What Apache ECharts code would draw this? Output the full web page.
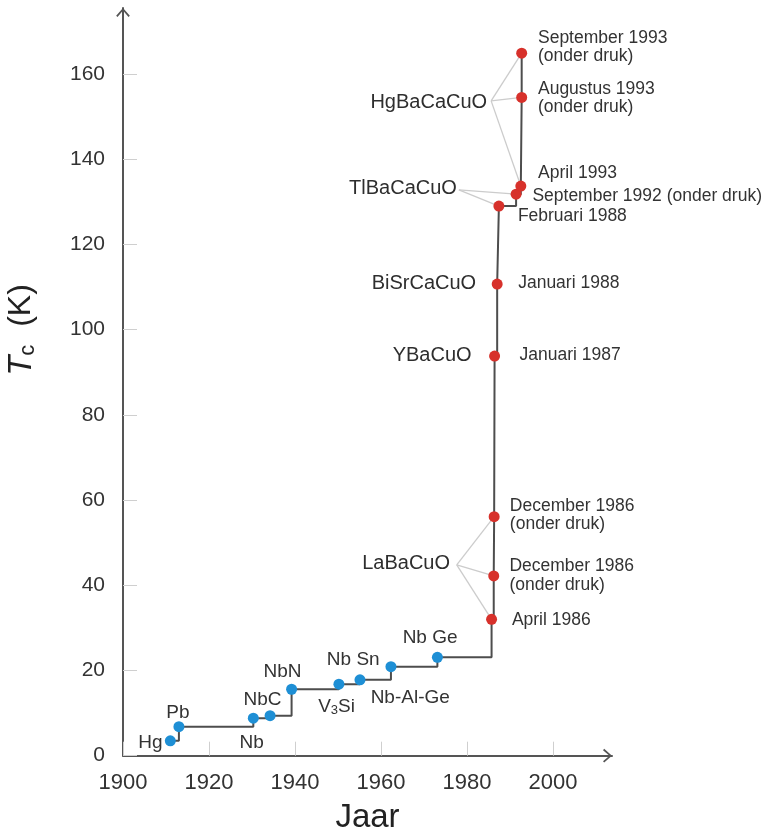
<!DOCTYPE html>
<html><head><meta charset="utf-8">
<script src="https://cdn.jsdelivr.net/npm/echarts@6/dist/echarts.min.js"></script>
<style>html,body{margin:0;padding:0;background:#fff}#c{width:767px;height:840px}</style>
</head><body><div id="c"></div><script>
// ---- data ----
const blueNames = ['Hg','Pb','Nb','NbC','NbN','V3Si','Nb Sn','Nb-Al-Ge','Nb Ge'];
const blueYears = [1911.0, 1913.0, 1930.3, 1934.2, 1939.2, 1950.2, 1955.1, 1962.3, 1973.1];
const blueTc    = [3.5, 6.8, 8.8, 9.4, 15.6, 16.8, 17.8, 20.9, 23.1];

const redDates = ['April 1986','December 1986\n(onder druk)','December 1986\n(onder druk)','Januari 1987','Januari 1988','Februari 1988','September 1992 (onder druk)','April 1993','Augustus 1993\n(onder druk)','September 1993\n(onder druk)'];
const redYears = [1985.7, 1986.2, 1986.3, 1986.4, 1987.0, 1987.4, 1991.4, 1992.5, 1992.7, 1992.7];
const redTc    = [32.0, 42.2, 56.1, 93.8, 110.7, 129.0, 131.8, 133.7, 154.5, 164.9];

// compound families with leader lines (anchor in data units, members = red indices)
const groupNames   = ['HgBaCaCuO','TlBaCaCuO','LaBaCuO'];
const groupYears   = [1985.6, 1978.1, 1977.6];
const groupTc      = [153.7, 132.8, 44.8];
const groupMembers = [[9,8,7],[6,5],[2,1,0]];

// compound names written next to a single point
const singleNames  = ['YBaCuO','BiSrCaCuO'];
const singleMember = [3, 4];

const xTicks = [1900,1920,1940,1960,1980,2000];
const yTicks = [0,20,40,60,80,100,120,140,160];

// ---- layout / style (label offsets in px) ----
const FONT = 'Liberation Sans, Arial, Helvetica, sans-serif';
const blueOffsets = [[-20,2.6],[-1,-13.6],[-1.6,25],[-7.5,-15.4],[-9,-17],[-2.3,22.7],[-6.7,-20],[19.3,31.6],[-7.3,-19]];
const redOffsets  = [[20.3,0.7],[15.7,0],[15.7,-1.7],[25,-1],[21,-1],[19,10],[16.3,1.7],[17.3,-13],[16.3,0.7],[16.3,-6]];
const groupOffsets = [[-4,2],[-2,-1],[-6.7,-1]];
const singleOffsets = [[-23,-1],[-21,-1]];

const BLUE = '#1e8fd5', RED = '#d7312b', LINE = '#4d4d4d';

const arrowPath = 'path://M7,0 L14,8 L12.6,9.2 L7,2.6 L1.4,9.2 L0,8 Z';

const allYears = blueYears.concat(redYears);
const allTc = blueTc.concat(redTc);

const blueData = blueYears.map((y,i)=>({
  value:[y, blueTc[i]],
  label:{offset: blueOffsets[i]}
}));
const redData = redYears.map((y,i)=>({
  value:[y, redTc[i]],
  label:{offset: redOffsets[i]}
}));
const groupData = groupYears.map((y,i)=>({
  value:[y, groupTc[i]],
  label:{offset: groupOffsets[i]}
}));
const singleData = singleMember.map((m,i)=>({
  value:[redYears[m], redTc[m]],
  label:{offset: singleOffsets[i]}
}));
const leaderLines = [];
groupMembers.forEach((mem,g)=>{
  mem.forEach(m=>{
    leaderLines.push([{coord:[groupYears[g], groupTc[g]]},{coord:[redYears[m], redTc[m]]}]);
  });
});

const chart = echarts.init(document.getElementById('c'), null, {renderer:'canvas'});
chart.setOption({
  animation:false,
  backgroundColor:'#fff',
  textStyle:{fontFamily:FONT},
  grid:{left:123, right:155, top:8, bottom:84.3, containLabel:false, outerBoundsMode:'none'},
  xAxis:{
    type:'value', min:1900, max:2013.7, interval:20,
    name:'Jaar', nameLocation:'middle', nameGap:46,
    nameTextStyle:{fontSize:33, color:'#222', fontFamily:FONT},
    axisLine:{show:true, lineStyle:{color:'#555', width:2}, symbol:['none', arrowPath], symbolSize:[14,9], symbolOffset:[0,-4.5]},
    axisTick:{show:true, inside:true, length:14, lineStyle:{color:'#cfcfcf', width:1}, customValues:xTicks},
    axisLabel:{fontSize:22, color:'#333', margin:16, fontFamily:FONT, customValues:xTicks,
      formatter:v=> (v%20===0 ? String(v) : '')},
    splitLine:{show:false}
  },
  yAxis:{
    type:'value', min:0, max:175.5, interval:20,
    axisLine:{show:true, lineStyle:{color:'#555', width:2}, symbol:['none', arrowPath], symbolSize:[14,9], symbolOffset:[0,-4.5]},
    axisTick:{show:true, inside:true, length:14, lineStyle:{color:'#cfcfcf', width:1}, customValues:yTicks},
    axisLabel:{fontSize:21, color:'#333', margin:18, fontFamily:FONT, customValues:yTicks,
      formatter:v=> (v%20===0 ? String(v) : '')},
    splitLine:{show:false}
  },
  graphic:[{
    type:'text', x:22, y:330, rotation:Math.PI/2, z:10,
    style:{
      text:'{t|T}{s|c}{k|  (K)}',
      align:'center', verticalAlign:'middle', textAlign:'center', textVerticalAlign:'middle',
      fill:'#222',
      rich:{
        t:{fontSize:33, fontStyle:'italic', fontFamily:FONT, lineHeight:34, verticalAlign:'top', fill:'#222'},
        s:{fontSize:22, fontFamily:FONT, lineHeight:22, padding:[20,0,0,0], verticalAlign:'bottom', fill:'#222'},
        k:{fontSize:32, fontFamily:FONT, lineHeight:34, verticalAlign:'top', fill:'#222'}
      }
    }
  }],
  series:[
    {
      type:'line', name:'step', data: allYears.map((y,i)=>[y, allTc[i]]),
      step:'end', showSymbol:false, symbol:'none', silent:true, z:2,
      lineStyle:{color:LINE, width:2}
    },
    {
      type:'scatter', name:'groups', data:groupData, symbol:'circle', symbolSize:1, silent:true, z:1,
      itemStyle:{color:'rgba(0,0,0,0)', opacity:1},
      label:{show:true, position:'inside', align:'right', verticalAlign:'middle',
        fontSize:20, color:'#2e2e2e', fontFamily:FONT,
        formatter:p=>groupNames[p.dataIndex]},
      markLine:{
        silent:true, symbol:['none','none'], animation:false, z:1,
        lineStyle:{color:'#cccccc', width:1.3, type:'solid'},
        label:{show:false},
        emphasis:{disabled:true},
        data:leaderLines
      }
    },
    {
      type:'scatter', name:'single', data:singleData, symbol:'circle', symbolSize:1, silent:true, z:1,
      itemStyle:{color:'rgba(0,0,0,0)', opacity:1},
      label:{show:true, position:'inside', align:'right', verticalAlign:'middle',
        fontSize:20, color:'#2e2e2e', fontFamily:FONT,
        formatter:p=>singleNames[p.dataIndex]}
    },
    {
      type:'scatter', name:'classic', data:blueData, symbolSize:11, z:4, silent:true,
      itemStyle:{color:BLUE, opacity:1},
      label:{show:true, position:'inside', align:'center', verticalAlign:'middle',
        fontSize:19, color:'#333', fontFamily:FONT,
        formatter:p=>{ const n = blueNames[p.dataIndex]; return n==='V3Si' ? '{n|V}{s|3}{n|Si}' : '{n|'+n+'}'; },
        rich:{
          n:{fontSize:19, color:'#333', fontFamily:FONT, lineHeight:20, verticalAlign:'top'},
          s:{fontSize:13, color:'#333', fontFamily:FONT, lineHeight:13, padding:[10,0,0,0], verticalAlign:'bottom'}
        }
      }
    },
    {
      type:'scatter', name:'cuprate', data:redData, symbolSize:11, z:4, silent:true,
      itemStyle:{color:RED, opacity:1},
      label:{show:true, position:'inside', align:'left', verticalAlign:'middle',
        fontSize:17.5, lineHeight:18.5, color:'#333', fontFamily:FONT,
        formatter:p=>redDates[p.dataIndex]}
    }
  ]
});
</script></body></html>
